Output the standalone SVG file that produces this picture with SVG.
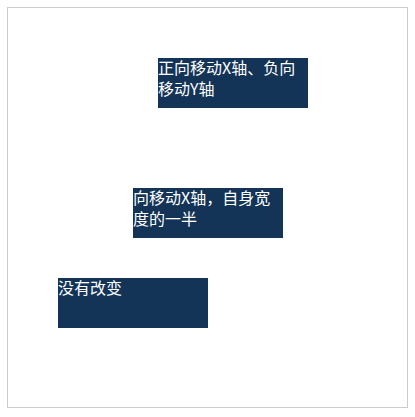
<svg xmlns="http://www.w3.org/2000/svg" width="415" height="417" viewBox="0 0 415 417">
<style>
.box{fill:#133457}
.t{fill:#ffffff;font-family:"Noto Sans CJK SC","Liberation Sans",sans-serif;font-size:16px}
</style>
<rect x="0" y="0" width="415" height="417" fill="#ffffff"/>
<rect x="7.5" y="7.5" width="400" height="400" fill="none" stroke="#cccccc" stroke-width="1"/>
<g id="connectors"></g>
<g id="node1">
<rect class="box" x="158" y="58" width="150" height="50"/>
<text class="t" x="158" y="74">正向移动X轴、负向</text>
<text class="t" x="158" y="95">移动Y轴</text>
</g>
<g id="node2">
<rect class="box" x="133" y="188" width="150" height="50"/>
<text class="t" x="133" y="204">向移动X轴，自身宽</text>
<text class="t" x="133" y="225">度的一半</text>
</g>
<g id="node3">
<rect class="box" x="58" y="278" width="150" height="50"/>
<text class="t" x="58" y="294">没有改变</text>
</g>
</svg>
